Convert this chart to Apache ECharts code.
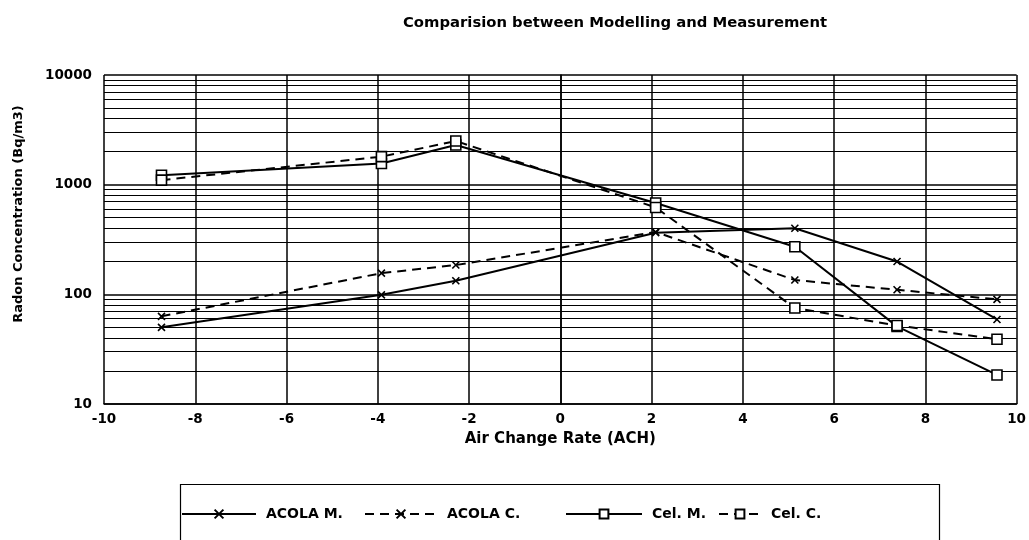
<!DOCTYPE html>
<html>
<head>
<meta charset="utf-8">
<script src="https://cdn.jsdelivr.net/npm/echarts@6/dist/echarts.min.js"></script>
<style>html,body{margin:0;padding:0;background:#fff;}#c{width:1029px;height:540px;}</style>
</head>
<body>
<div id="c"></div>
<script>
var titleText = 'Comparision between Modelling and Measurement';
var xName = 'Air Change Rate (ACH)';
var yName = 'Radon Concentration (Bq/m3)';
var seriesNames = ['ACOLA M.', 'ACOLA C.', 'Cel. M.', 'Cel. C.'];
var xValues = [-8.74, -3.92, -2.29, 2.09, 5.14, 7.38, 9.57];
var acolaM = [50, 99, 133, 365, 400, 199, 59];
var acolaC = [63, 156, 185, 370, 135, 110, 90];
var celM = [1220, 1560, 2300, 680, 272, 51, 18.4];
var celC = [1100, 1800, 2500, 620, 75, 52, 39];
var decades = [10, 100, 1000];
var minorSteps = [2, 3, 4, 5, 6, 7, 8, 9];

var minorLines = [];
decades.forEach(function (d) { minorSteps.forEach(function (m) { minorLines.push({ yAxis: d * m }); }); });

function pairs(ys) { return xValues.map(function (x, i) { return [x, ys[i]]; }); }
var cross = 'path://M0,0L10,10M10,0L0,10';
var font = 'DejaVu Sans, Verdana, sans-serif';

function mk(name, ys, dashed, sym) {
  return {
    name: name, type: 'line', data: pairs(ys),
    symbol: sym === 'x' ? cross : 'rect',
    symbolSize: sym === 'x' ? 7 : 10,
    showAllSymbol: true,
    lineStyle: { color: '#000', width: 2, type: dashed ? [9, 6] : 'solid' },
    itemStyle: { color: sym === 'x' ? '#000' : '#fff', borderColor: '#000', borderWidth: 1.6 },
    z: 5
  };
}

var series = [
  mk(seriesNames[0], acolaM, false, 'x'),
  mk(seriesNames[1], acolaC, true, 'x'),
  mk(seriesNames[2], celM, false, 'sq'),
  mk(seriesNames[3], celC, true, 'sq')
];
series.push({
  type: 'line', data: [], silent: true, z: 1,
  markLine: { silent: true, symbol: 'none', label: { show: false },
    lineStyle: { color: '#000', width: 1.2, type: 'solid' }, data: minorLines, animation: false }
});

var legendSlots = [
  { left: 181, w: 74 },
  { left: 364, w: 72 },
  { left: 565, w: 76 },
  { left: 718, w: 42 }
];
var legends = seriesNames.map(function (n, i) {
  return {
    data: [n], left: legendSlots[i].left, top: 507, padding: 0,
    itemWidth: legendSlots[i].w, itemHeight: 11,
    textStyle: { fontFamily: font, fontWeight: 'bold', fontSize: 14, color: '#000', padding: [0, 0, 0, 5] }
  };
});

var chart = echarts.init(document.getElementById('c'));
chart.setOption({
  animation: false,
  backgroundColor: '#fff',
  title: { text: titleText, left: 398, top: 11, textStyle: { fontFamily: font, fontWeight: 'bold', fontSize: 14.8, color: '#000' } },
  grid: { left: 104, right: 12, top: 75, bottom: 136 },
  xAxis: {
    type: 'value', min: -10, max: 10, interval: 2,
    name: xName, nameLocation: 'middle', nameGap: 28,
    nameTextStyle: { fontFamily: font, fontWeight: 'bold', fontSize: 15, color: '#000' },
    axisLine: { show: true, onZero: false, lineStyle: { color: '#000', width: 1.5 } },
    axisTick: { show: false },
    axisLabel: { fontFamily: font, fontWeight: 'bold', fontSize: 13.5, color: '#000', margin: 8 },
    splitLine: { show: true, lineStyle: { color: '#000', width: 1.5 } }
  },
  yAxis: {
    type: 'log', logBase: 10, min: 10, max: 10000,
    axisLine: { show: true, lineStyle: { color: '#000', width: 1.5 } },
    axisTick: { show: false },
    axisLabel: { fontFamily: font, fontWeight: 'bold', fontSize: 13.5, color: '#000', margin: 12,
      formatter: function (v) { return String(Math.round(v)); } },
    splitLine: { show: true, lineStyle: { color: '#000', width: 1.5 } }
  },
  legend: legends,
  graphic: [
    { type: 'rect', left: 178, top: 482, shape: { width: 759, height: 70 },
      style: { fill: 'none', stroke: '#000', lineWidth: 1.2 }, silent: true },
    { type: 'text', x: 19, y: 214, rotation: Math.PI / 2,
      style: { text: yName, fontFamily: font, fontWeight: 'bold', fontSize: 13, fill: '#000',
        align: 'center', verticalAlign: 'middle' } }
  ],
  series: series
});
</script>
</body>
</html>
